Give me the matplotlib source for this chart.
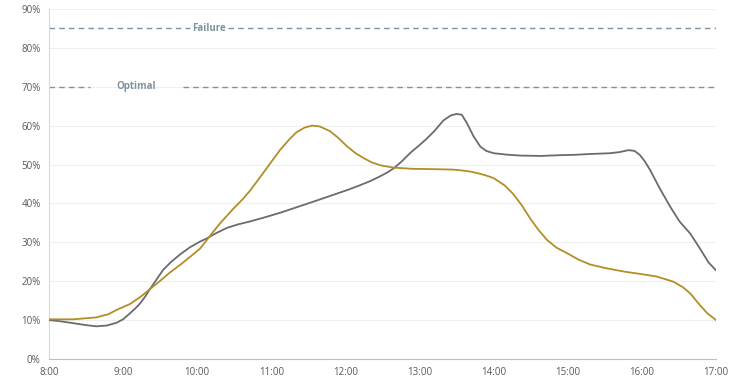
import matplotlib
matplotlib.use("Agg")
import matplotlib.pyplot as plt

# readings (%), hour of day for each point
gray_hours = [8.0, 8.15, 8.33, 8.5, 8.64, 8.78, 8.91, 9.0, 9.09, 9.16, 9.23, 9.3, 9.36,
              9.45, 9.54, 9.65, 9.77, 9.9, 10.04, 10.13, 10.25, 10.4, 10.55, 10.7, 10.89,
              11.12, 11.34, 11.56, 11.79, 12.02, 12.2, 12.33, 12.45, 12.56, 12.65, 12.76,
              12.87, 13.0, 13.1, 13.2, 13.32, 13.42, 13.5, 13.57, 13.64, 13.73, 13.82,
              13.9, 14.0, 14.2, 14.36, 14.63, 14.9, 15.1, 15.3, 15.57, 15.7, 15.82, 15.9,
              15.97, 16.04, 16.11, 16.24, 16.38, 16.51, 16.65, 16.78, 16.9, 17.0]
gray = [10.0, 9.7, 9.2, 8.7, 8.4, 8.6, 9.3, 10.2, 11.7, 12.9, 14.3, 16.1, 17.9,
        20.4, 22.9, 25.0, 26.9, 28.7, 30.2, 31.0, 32.3, 33.7, 34.6, 35.3, 36.3,
        37.6, 39.0, 40.4, 41.9, 43.4, 44.7, 45.7, 46.8, 47.9, 49.0, 50.8,
        52.9, 55.0, 56.7, 58.6, 61.3, 62.6, 63.0, 62.8, 60.6, 57.2, 54.6,
        53.5, 52.9, 52.5, 52.3, 52.2, 52.4, 52.5, 52.7, 52.9, 53.2, 53.7, 53.5,
        52.5, 50.8, 48.6, 43.9, 39.2, 35.3, 32.3, 28.5, 24.8, 22.8]

gold_hours = [8.0, 8.33, 8.64, 8.8, 8.91, 9.09, 9.23, 9.36, 9.5, 9.63, 9.77, 9.9, 10.04,
              10.13, 10.22, 10.31, 10.4, 10.49, 10.6, 10.71, 10.82, 10.92, 11.02, 11.12,
              11.25, 11.34, 11.45, 11.55, 11.65, 11.79, 11.9, 12.02, 12.13, 12.24, 12.35,
              12.47, 12.65, 12.9, 13.2, 13.44, 13.56, 13.68, 13.8, 13.91, 14.0, 14.15,
              14.26, 14.38, 14.49, 14.6, 14.72, 14.85, 14.99, 15.15, 15.3, 15.5, 15.75,
              16.0, 16.2, 16.42, 16.55, 16.65, 16.78, 16.88, 17.0]
gold = [10.2, 10.2, 10.7, 11.5, 12.6, 14.1, 15.9, 17.9, 20.1, 22.2, 24.2, 26.2, 28.4,
        30.6, 32.8, 34.9, 36.8, 38.7, 40.8, 43.2, 46.0, 48.6, 51.2, 53.8,
        56.6, 58.3, 59.5, 60.0, 59.8, 58.6, 56.9, 54.7, 53.0, 51.7, 50.6,
        49.8, 49.2, 48.9, 48.8, 48.7, 48.5, 48.2, 47.7, 47.1, 46.5, 44.6,
        42.5, 39.5, 36.2, 33.3, 30.6, 28.6, 27.2, 25.5, 24.3, 23.4, 22.5,
        21.8, 21.2, 19.9, 18.5, 16.9, 13.9, 11.8, 10.0]

x_ticks = list(range(8, 18))
x_labels = [f"{h}:00" for h in x_ticks]
y_ticks = list(range(0, 100, 10))
y_labels = [f"{v}%" for v in y_ticks]

failure_level = 85
optimal_level = 70

ref_color = "#7d939e"
text_color = "#595959"

plt.rcParams["font.family"] = ["Open Sans", "DejaVu Sans"]

fig = plt.figure(figsize=(7.31, 3.83), dpi=100)
ax = fig.add_axes([0.067, 0.0627, 0.9125, 0.914])

ax.set_xlim(8, 17)
ax.set_ylim(0, 90)
ax.set_xticks(x_ticks)
ax.set_xticklabels(x_labels)
ax.set_yticks(y_ticks)
ax.set_yticklabels(y_labels)
ax.tick_params(length=0, labelsize=7, colors=text_color, pad=6)

ax.grid(axis="y", color="#efefef", linewidth=0.8)
ax.set_axisbelow(True)
for s in ["top", "right"]:
    ax.spines[s].set_visible(False)
ax.spines["left"].set_color("#d9d9d9")
ax.spines["bottom"].set_color("#bfbfbf")

ax.plot(gray_hours, gray, color="#6b6a72", linewidth=1.3, zorder=3,
        solid_joinstyle="round")
ax.plot(gold_hours, gold, color="#b38d25", linewidth=1.3, zorder=3,
        solid_joinstyle="round")

# reference lines with a gap for the label
dash = dict(color=ref_color, linewidth=1.0, linestyle=(0, (4, 3)))
ax.hlines(failure_level, 8, 9.9, **dash)
ax.hlines(failure_level, 10.42, 17, **dash)
ax.hlines(optimal_level, 8, 8.55, **dash)
ax.hlines(optimal_level, 9.81, 17, **dash)
ax.text(10.16, failure_level, "Failure", color=ref_color, fontsize=7,
        fontweight="bold", ha="center", va="center")
ax.text(9.18, optimal_level, "Optimal", color=ref_color, fontsize=7,
        fontweight="bold", ha="center", va="center")

fig.savefig("out.png", dpi=100)
